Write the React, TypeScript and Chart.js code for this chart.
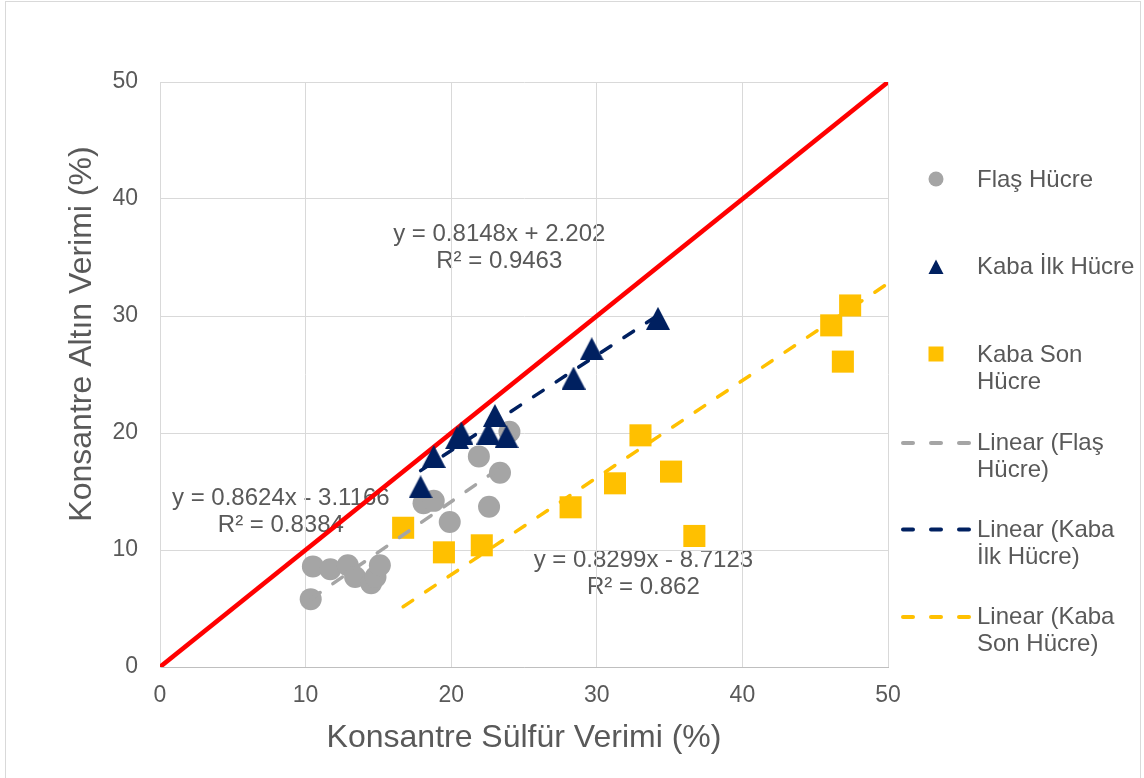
import React, { useEffect, useRef } from "react";
import { Chart, registerables } from "chart.js";

Chart.register(...registerables);

const FONT = '"Liberation Sans", Arial, Helvetica, sans-serif';
const TEXT_COLOR = "#595959";
const GRID_COLOR = "#D9D9D9";
const GRAY = "#A5A5A5";
const NAVY = "#002060";
const GOLD = "#FFC000";
const RED = "#FF0000";

// ---- Data: Flaş Hücre (grey circles) ----
const flasX = [10.35, 10.5, 11.7, 12.9, 13.4, 14.5, 14.8, 15.1, 18.1, 18.8, 19.9, 21.9, 22.6, 23.35, 24.0];
const flasY = [5.8, 8.6, 8.35, 8.7, 7.7, 7.15, 7.7, 8.7, 14.0, 14.2, 12.4, 18.0, 13.7, 16.6, 20.1];

// ---- Data: Kaba İlk Hücre (navy triangles) ----
const ilkX = [17.9, 18.8, 20.4, 20.7, 22.55, 23.0, 23.8, 28.4, 29.65, 34.2];
const ilkY = [15.4, 18.0, 19.6, 20.0, 20.0, 21.5, 19.7, 24.7, 27.2, 29.8];

// ---- Data: Kaba Son Hücre (gold squares) ----
const sonX = [16.7, 19.5, 22.1, 28.2, 31.25, 33.0, 35.1, 36.7, 46.1, 46.9, 47.4];
const sonY = [11.9, 9.8, 10.4, 13.65, 15.7, 19.8, 16.7, 11.2, 29.2, 26.1, 30.9];

// ---- Reference line y = x ----
const refX = [0, 50];
const refY = [0, 50];

// ---- Linear trendline coefficients (as printed on the chart) ----
const flasSlope = 0.8624;
const flasIntercept = -3.1166;
const flasR2 = "0.8384";
const ilkSlope = 0.8148;
const ilkIntercept = 2.202;
const ilkR2 = "0.9463";
const sonSlope = 0.8299;
const sonIntercept = -8.7123;
const sonR2 = "0.862";
const sonTrendEndX = 50;

// ---- Axis ----
const axisMin = 0;
const axisMax = 50;
const axisStep = 10;
const xTitle = "Konsantre Sülfür Verimi (%)";
const yTitle = "Konsantre Altın Verimi (%)";

// ---- Legend texts ----
const legendFlas = ["Flaş Hücre"];
const legendIlk = ["Kaba İlk Hücre"];
const legendSon = ["Kaba Son", "Hücre"];
const legendTrendFlas = ["Linear (Flaş", "Hücre)"];
const legendTrendIlk = ["Linear (Kaba", "İlk Hücre)"];
const legendTrendSon = ["Linear (Kaba", "Son Hücre)"];

const eqText = (slope: number, intercept: number) =>
  `y = ${slope}x ${intercept < 0 ? "-" : "+"} ${Math.abs(intercept)}`;

const pts = (xs: number[], ys: number[]) => xs.map((x, i) => ({ x, y: ys[i] }));
const trend = (slope: number, intercept: number, x0: number, x1: number) => [
  { x: x0, y: slope * x0 + intercept },
  { x: x1, y: slope * x1 + intercept },
];

function makeTriangle(w: number, h: number, color: string) {
  const c = document.createElement("canvas");
  c.width = w;
  c.height = h;
  const ctx = c.getContext("2d")!;
  ctx.fillStyle = color;
  ctx.beginPath();
  ctx.moveTo(w / 2, 0);
  ctx.lineTo(w, h);
  ctx.lineTo(0, h);
  ctx.closePath();
  ctx.fill();
  return c;
}

const labelsPlugin = {
  id: "customTexts",
  beforeDraw(chart: any) {
    const { ctx, scales } = chart;
    const xs = scales.x;
    const ys = scales.y;
    const items = [
      { x: 23.3, y: 35.8, lines: [eqText(ilkSlope, ilkIntercept), `R² = ${ilkR2}`] },
      { x: 8.3, y: 13.3, lines: [eqText(flasSlope, flasIntercept), `R² = ${flasR2}`] },
      { x: 33.2, y: 8.0, lines: [eqText(sonSlope, sonIntercept), `R² = ${sonR2}`] },
    ];
    ctx.save();
    ctx.font = `24px ${FONT}`;
    ctx.fillStyle = TEXT_COLOR;
    ctx.textAlign = "center";
    ctx.textBaseline = "middle";
    for (const it of items) {
      const cx = xs.getPixelForValue(it.x);
      const cy = ys.getPixelForValue(it.y);
      ctx.fillText(it.lines[0], cx, cy - 13.5);
      ctx.fillText(it.lines[1], cx, cy + 13.5);
    }
    ctx.restore();
  },
  afterDraw(chart: any) {
    const { ctx, chartArea } = chart;
    ctx.save();
    // axis titles
    ctx.fillStyle = TEXT_COLOR;
    ctx.font = `32px ${FONT}`;
    ctx.textAlign = "center";
    ctx.textBaseline = "middle";
    ctx.fillText(xTitle, (chartArea.left + chartArea.right) / 2, 738);
    ctx.save();
    ctx.translate(82, 334);
    ctx.rotate(-Math.PI / 2);
    ctx.fillText(yTitle, 0, 0);
    ctx.restore();

    // legend
    const mx = 936;
    const tx = 977;
    const lh = 27;
    ctx.font = `24px ${FONT}`;
    ctx.textAlign = "left";
    const text = (lines: string[], y: number) => {
      lines.forEach((l, i) => ctx.fillText(l, tx, y + i * lh));
    };
    // circle
    ctx.fillStyle = GRAY;
    ctx.beginPath();
    ctx.arc(mx, 179, 7.5, 0, Math.PI * 2);
    ctx.fill();
    // triangle
    ctx.fillStyle = NAVY;
    ctx.beginPath();
    ctx.moveTo(mx, 259.5);
    ctx.lineTo(mx + 7.5, 274);
    ctx.lineTo(mx - 7.5, 274);
    ctx.closePath();
    ctx.fill();
    // square
    ctx.fillStyle = GOLD;
    ctx.fillRect(mx - 7.5, 346.5, 15, 15);
    // dashed lines
    const dash = (y: number, color: string) => {
      ctx.strokeStyle = color;
      ctx.lineWidth = 4;
      ctx.lineCap = "round";
      for (const [a, b] of [[901, 915], [929, 943], [957, 971]]) {
        ctx.beginPath();
        ctx.moveTo(a + 2, y);
        ctx.lineTo(b - 2, y);
        ctx.stroke();
      }
    };
    dash(443, GRAY);
    dash(529.5, NAVY);
    dash(617, GOLD);

    ctx.fillStyle = TEXT_COLOR;
    text(legendFlas, 180);
    text(legendIlk, 267);
    text(legendSon, 355);
    text(legendTrendFlas, 443);
    text(legendTrendIlk, 530);
    text(legendTrendSon, 617);
    ctx.restore();
  },
};

export default function App() {
  const ref = useRef<HTMLCanvasElement | null>(null);

  useEffect(() => {
    if (!ref.current) return;
    const tri = makeTriangle(24, 23, NAVY);
    const chart = new Chart(ref.current, {
      type: "scatter",
      data: {
        datasets: [
          {
            label: "Linear (Flaş Hücre)",
            data: trend(flasSlope, flasIntercept, Math.min(...flasX), Math.max(...flasX)),
            showLine: true,
            borderColor: GRAY,
            borderWidth: 3.5,
            borderDash: [11.5, 15.5],
            borderCapStyle: "round",
            pointRadius: 0,
          },
          {
            label: "Linear (Kaba İlk Hücre)",
            data: trend(ilkSlope, ilkIntercept, Math.min(...ilkX), Math.max(...ilkX)),
            showLine: true,
            borderColor: NAVY,
            borderWidth: 3.5,
            borderDash: [11.5, 15.5],
            borderCapStyle: "round",
            pointRadius: 0,
          },
          {
            label: "Linear (Kaba Son Hücre)",
            data: trend(sonSlope, sonIntercept, Math.min(...sonX), sonTrendEndX),
            showLine: true,
            borderColor: GOLD,
            borderWidth: 3.5,
            borderDash: [11.5, 15.5],
            borderCapStyle: "round",
            pointRadius: 0,
          },
          {
            label: "Kaba Son Hücre",
            data: pts(sonX, sonY),
            pointStyle: "rect",
            pointRadius: 15.6,
            backgroundColor: GOLD,
            borderColor: GOLD,
            borderWidth: 0,
          },
          {
            label: "Kaba İlk Hücre",
            data: pts(ilkX, ilkY),
            pointStyle: tri as any,
            pointRadius: 11,
            backgroundColor: NAVY,
            borderColor: NAVY,
            borderWidth: 0,
          },
          {
            label: "Flaş Hücre",
            data: pts(flasX, flasY),
            pointStyle: "circle",
            pointRadius: 11,
            backgroundColor: GRAY,
            borderColor: GRAY,
            borderWidth: 0,
          },
          {
            label: "y = x",
            data: pts(refX, refY),
            showLine: true,
            borderColor: RED,
            borderWidth: 4.5,
            pointRadius: 0,
          },
        ],
      },
      options: {
        responsive: false,
        animation: false,
        events: [],
        layout: { padding: { left: 40, right: 256, top: 82, bottom: 40 } },
        plugins: {
          legend: { display: false },
          tooltip: { enabled: false },
        },
        scales: {
          x: {
            type: "linear",
            min: axisMin,
            max: axisMax,
            ticks: {
              stepSize: axisStep,
              color: TEXT_COLOR,
              font: { family: FONT, size: 23 },
              padding: 15,
            },
            grid: { color: GRID_COLOR, lineWidth: 1, drawTicks: false },
            border: { color: "#BFBFBF", width: 1 },
            afterFit: (s: any) => {
              s.height = 71;
            },
          },
          y: {
            type: "linear",
            min: axisMin,
            max: axisMax,
            ticks: {
              stepSize: axisStep,
              color: TEXT_COLOR,
              font: { family: FONT, size: 23 },
              padding: 22,
            },
            grid: { color: GRID_COLOR, lineWidth: 1, drawTicks: false },
            border: { color: GRID_COLOR, width: 1 },
            afterFit: (s: any) => {
              s.width = 120;
            },
          },
        },
      },
      plugins: [labelsPlugin],
    } as any);
    return () => chart.destroy();
  }, []);

  return (
    <div
      style={{
        position: "fixed",
        left: 0,
        top: 0,
        width: 1144,
        height: 778,
        background: "#fff",
        overflow: "hidden",
      }}
    >
      <div
        style={{
          position: "absolute",
          left: 5,
          top: 1,
          width: 1136,
          height: 830,
          border: "1px solid #D9D9D9",
          boxSizing: "border-box",
        }}
      />
      <canvas
        ref={ref}
        width={1144}
        height={778}
        style={{ position: "absolute", left: 0, top: 0, display: "block" }}
      />
    </div>
  );
}
